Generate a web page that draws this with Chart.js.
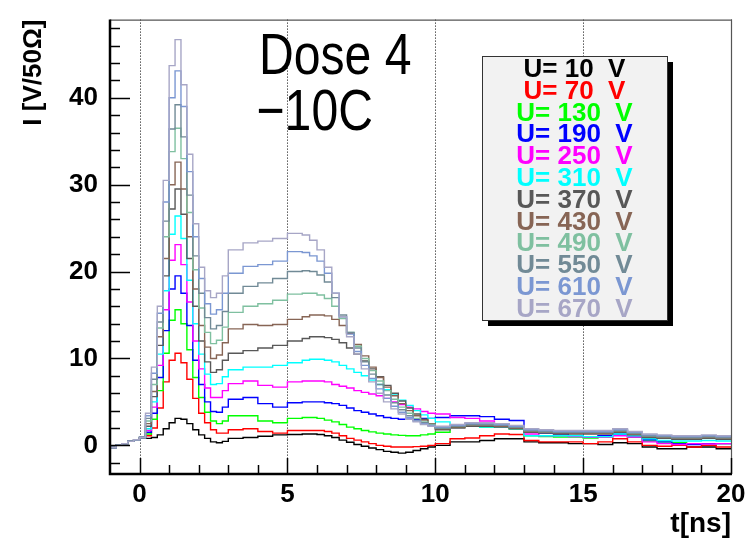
<!DOCTYPE html>
<html>
<head>
<meta charset="utf-8">
<script src="https://cdn.jsdelivr.net/npm/chart.js@4.4.1/dist/chart.umd.min.js"></script>
<style>
  html, body { margin: 0; background: #fff; }
  canvas { display: block; }
</style>
</head>
<body>
<canvas id="pulse" width="747" height="542"></canvas>
<script>
// bin left edges [ns]
const times = [-1.0, -0.8, -0.6, -0.4, -0.2,
  0.0, 0.2, 0.4, 0.6, 0.8, 1.0, 1.2, 1.4, 1.6, 1.8, 2.0, 2.2, 2.4, 2.6, 2.8,
  3.0, 3.5, 4.0, 4.5, 5.0,
  5.5, 5.75, 6.0, 6.25, 6.5, 6.75, 7.0, 7.25, 7.5, 7.75, 8.0, 8.25, 8.5, 8.75, 9.0, 9.25, 9.5, 9.75,
  10.0, 10.5, 11.0, 11.5, 12.0, 12.5, 13.0, 13.5, 14.0, 14.5, 15.0, 15.5, 16.0, 16.5, 17.0, 17.5, 18.0, 18.5, 19.0, 19.5,
  20.0];

// current [V/50 Ohm] per bias voltage
const u10 = [-0.25, 0.0, 0.2, 0.45, 0.65,
  0.85, 0.8, 0.9, 1.2, 1.9, 2.6, 3.1, 3.0, 2.5, 1.8, 1.2, 0.8, 0.4, 0.3, 0.45,
  0.8, 0.9, 1.05, 1.2, 1.25,
  1.3, 1.3, 1.25, 1.1, 0.9, 0.6, 0.35, 0.1, -0.1, -0.3, -0.5, -0.7, -0.8, -0.9, -0.8, -0.6, -0.4, -0.2,
  0.0, 0.4, 0.4, 0.55, 0.75, 0.75, 0.4, 0.3, 0.3, 0.2, 0.2, 0.1, 0.3, 0.2, -0.2, -0.4, -0.4, -0.2, -0.2, -0.4,
  -0.4];
const u70 = [-0.25, 0.0, 0.2, 0.45, 0.65,
  0.9, 1.1, 2.0, 4.3, 7.3, 9.8, 10.6, 9.5, 7.6, 5.4, 3.7, 2.6, 1.8, 1.4, 1.4,
  1.8, 1.9, 1.6, 1.4, 1.7,
  1.7, 1.7, 1.7, 1.6, 1.4, 1.1, 0.8, 0.6, 0.4, 0.2, 0.0, -0.1, -0.2, -0.2, -0.2, -0.15, -0.1, 0.0,
  0.2, 0.75, 0.85, 1.1, 1.3, 1.25, 0.55, 0.4, 0.4, 0.4, 0.2, 0.4, 0.75, 0.4, 0.0, -0.1, 0.0, -0.2, 0.0, -0.2,
  -0.2];
const u130 = [-0.25, 0.0, 0.2, 0.45, 0.65,
  0.9, 1.3, 3.0, 6.3, 10.6, 14.4, 15.6, 14.0, 11.0, 7.8, 5.5, 3.8, 2.8, 2.5, 2.8,
  3.4, 3.4, 2.8, 2.6, 3.1,
  3.2, 3.2, 3.1, 2.9, 2.7, 2.4, 2.1, 1.9, 1.7, 1.55, 1.4, 1.3, 1.2, 1.15, 1.1, 1.1, 1.2, 1.3,
  1.5, 2.1, 2.2, 2.1, 2.2, 1.9, 1.1, 1.0, 0.95, 0.95, 0.85, 0.95, 1.2, 0.95, 0.5, 0.4, 0.3, 0.2, 0.2, 0.2,
  0.2];
const u190 = [-0.25, 0.0, 0.2, 0.45, 0.65,
  0.9, 1.5, 3.7, 7.8, 13.2, 18.0, 19.5, 17.5, 13.8, 9.8, 7.0, 5.0, 3.9, 3.8, 4.4,
  5.3, 5.5, 4.8, 4.4, 4.9,
  5.0, 5.0, 5.0, 4.9, 4.8, 4.6, 4.3, 4.0, 3.8, 3.6, 3.4, 3.2, 3.1, 3.0, 3.0, 3.0, 3.1, 3.1,
  3.2, 3.4, 3.4, 3.3, 3.0, 2.85, 1.7, 1.4, 1.3, 1.1, 1.0, 1.1, 1.3, 1.0, 0.65, 0.4, 0.2, 0.1, 0.2, 0.2,
  0.2];
const u250 = [-0.25, 0.0, 0.2, 0.45, 0.65,
  0.9, 1.7, 4.4, 9.2, 15.6, 21.3, 23.1, 20.8, 16.5, 12.0, 8.8, 6.6, 5.5, 5.5, 6.3,
  7.1, 7.4, 6.9, 6.7, 7.3,
  7.4, 7.4, 7.4, 7.3, 7.0, 6.8, 6.6, 6.3, 6.1, 5.9, 5.7, 5.4, 5.0, 4.7, 4.4, 4.2, 3.9, 3.7,
  3.6, 3.2, 3.1, 2.8, 2.5, 2.1, 1.3, 1.1, 1.1, 1.0, 0.95, 0.95, 1.1, 0.95, 0.4, 0.2, 0.1, 0.2, 0.15, 0.2,
  0.2];
const u310 = [-0.25, 0.0, 0.2, 0.45, 0.65,
  0.9, 1.9, 5.0, 10.5, 17.8, 24.3, 26.4, 23.8, 19.0, 14.0, 10.5, 8.2, 7.0, 7.1, 7.9,
  8.7, 9.0, 9.0, 9.2, 9.5,
  9.8, 9.9, 9.9, 9.8, 9.6, 9.2, 8.8, 8.4, 8.0, 7.5, 7.0, 6.4, 5.8, 5.2, 4.6, 4.0, 3.5, 3.1,
  2.7, 2.3, 2.2, 2.1, 2.1, 1.9, 1.1, 1.1, 1.1, 1.1, 1.0, 1.0, 1.3, 1.1, 0.75, 0.55, 0.5, 0.5, 0.55, 0.5,
  0.5];
const u370 = [-0.25, 0.0, 0.2, 0.45, 0.65,
  0.9, 2.2, 5.6, 11.5, 19.5, 27.2, 29.5, 26.6, 21.5, 16.0, 12.0, 9.6, 8.4, 8.7, 9.8,
  10.6, 10.9, 11.2, 11.5, 12.0,
  12.3, 12.5, 12.5, 12.4, 12.2, 11.8, 11.2, 10.5, 9.7, 8.8, 7.9, 6.9, 6.0, 5.1, 4.3, 3.6, 3.0, 2.5,
  1.8, 2.0, 2.2, 2.2, 2.1, 1.9, 1.5, 1.4, 1.3, 1.3, 1.3, 1.3, 1.5, 1.2, 0.9, 0.8, 0.7, 0.7, 0.8, 0.7,
  0.7];
const u430 = [-0.25, 0.0, 0.2, 0.45, 0.65,
  0.9, 2.5, 6.2, 12.5, 21.5, 30.0, 32.6, 29.5, 24.0, 18.0, 13.8, 11.3, 10.0, 10.4, 11.8,
  13.4, 13.9, 13.8, 13.9, 14.5,
  14.8, 15.0, 15.0, 14.9, 14.5, 13.8, 12.9, 11.6, 10.3, 9.0, 7.8, 6.7, 5.7, 4.8, 4.0, 3.4, 2.9, 2.5,
  1.9, 2.1, 2.3, 2.3, 2.2, 2.0, 1.6, 1.5, 1.4, 1.4, 1.4, 1.4, 1.6, 1.3, 1.0, 0.9, 0.8, 0.8, 0.9, 0.8,
  0.8];
const u490 = [-0.25, 0.0, 0.2, 0.45, 0.65,
  0.9, 2.8, 7.0, 13.5, 24.0, 33.8, 36.5, 33.0, 26.8, 20.2, 15.8, 13.0, 11.7, 12.1, 13.6,
  15.3, 16.0, 16.3, 16.7, 17.4,
  17.5, 17.5, 17.3, 16.9, 16.0, 14.6, 13.0, 11.4, 10.0, 8.6, 7.4, 6.3, 5.3, 4.4, 3.7, 3.1, 2.7, 2.4,
  2.0, 2.2, 2.4, 2.4, 2.3, 2.1, 1.7, 1.6, 1.5, 1.5, 1.5, 1.5, 1.7, 1.4, 1.1, 1.0, 0.9, 0.9, 1.0, 0.9,
  0.9];
const u550 = [-0.25, 0.0, 0.2, 0.45, 0.65,
  0.9, 3.1, 7.6, 14.2, 25.8, 36.4, 39.2, 35.5, 28.8, 21.8, 17.5, 14.7, 13.4, 13.8, 15.4,
  17.5, 18.3, 18.7, 19.2, 20.0,
  20.1, 20.0, 19.6, 18.8, 17.0, 15.0, 13.0, 11.2, 9.6, 8.2, 7.0, 5.8, 4.9, 4.1, 3.4, 2.9, 2.6, 2.3,
  2.0, 2.2, 2.4, 2.4, 2.3, 2.1, 1.7, 1.6, 1.5, 1.5, 1.5, 1.5, 1.7, 1.4, 1.1, 1.0, 0.9, 0.9, 1.0, 0.9,
  0.9];
const u610 = [-0.25, 0.0, 0.2, 0.45, 0.65,
  0.9, 3.4, 8.3, 15.2, 28.0, 40.0, 43.1, 39.0, 31.5, 24.0, 19.2, 16.3, 15.1, 15.6, 17.5,
  19.8, 20.6, 20.8, 21.2, 22.3,
  22.2, 21.8, 21.2, 19.8, 17.5, 14.8, 12.8, 10.8, 9.2, 7.7, 6.5, 5.4, 4.5, 3.8, 3.2, 2.8, 2.5, 2.3,
  2.1, 2.3, 2.5, 2.5, 2.4, 2.2, 1.8, 1.7, 1.6, 1.6, 1.6, 1.6, 1.8, 1.5, 1.2, 1.1, 1.0, 1.0, 1.1, 1.0,
  1.0];
const u670 = [-0.25, 0.0, 0.2, 0.45, 0.65,
  0.9, 3.7, 9.0, 16.0, 30.5, 43.7, 46.7, 41.5, 33.5, 25.5, 20.5, 17.8, 17.0, 17.5, 19.5,
  22.5, 23.3, 23.5, 23.8, 24.4,
  24.2, 23.6, 22.5, 20.5, 17.5, 14.8, 12.5, 10.5, 8.8, 7.3, 6.0, 5.0, 4.2, 3.6, 3.0, 2.7, 2.4, 2.2,
  2.2, 2.4, 2.6, 2.6, 2.5, 2.3, 1.9, 1.8, 1.7, 1.7, 1.7, 1.7, 1.9, 1.6, 1.3, 1.2, 1.1, 1.1, 1.2, 1.1,
  1.1];

const voltages = [10, 70, 130, 190, 250, 310, 370, 430, 490, 550, 610, 670];
const series = [u10, u70, u130, u190, u250, u310, u370, u430, u490, u550, u610, u670];
const colors = ['#000000', '#ff0000', '#00ff00', '#0000ff', '#ff00ff', '#00ffff',
  '#585858', '#876555', '#7fc0a0', '#718a96', '#7b97d2', '#a7a6c6'];

const xTicks = [0, 5, 10, 15, 20];
const yTicks = [0, 10, 20, 30, 40];

const labelFont = { family: 'Liberation Sans, Arial, sans-serif', size: 26, weight: 'bold' };

// ROOT-like frame, ticks, dotted grid, legend box and the note text
const rootDecor = {
  id: 'rootDecor',
  beforeDatasetsDraw(chart) {
    const { ctx, chartArea: a, scales: { x } } = chart;
    ctx.save();
    ctx.strokeStyle = '#000';
    ctx.lineWidth = 1;
    ctx.setLineDash([1, 2]);
    xTicks.forEach(v => {
      const px = Math.round(x.getPixelForValue(v)) + 0.5;
      ctx.beginPath();
      ctx.moveTo(px, a.top);
      ctx.lineTo(px, a.bottom);
      ctx.stroke();
    });
    ctx.restore();
  },
  afterDatasetsDraw(chart) {
    const { ctx, chartArea: a, scales: { x, y } } = chart;
    ctx.save();
    // frame
    ctx.strokeStyle = '#555';
    ctx.lineWidth = 1.2;
    ctx.beginPath();
    ctx.moveTo(a.left, a.top + 0.5);
    ctx.lineTo(a.right + 0.5, a.top + 0.5);
    ctx.lineTo(a.right + 0.5, a.bottom);
    ctx.stroke();
    ctx.strokeStyle = '#000';
    ctx.lineWidth = 2.5;
    ctx.beginPath();
    ctx.moveTo(a.left, a.top);
    ctx.lineTo(a.left, a.bottom);
    ctx.lineTo(a.right + 1, a.bottom);
    ctx.stroke();

    // y ticks (inward), minor every 2
    ctx.lineWidth = 1.5;
    for (let v = -2; v <= 48; v += 2) {
      const py = Math.round(y.getPixelForValue(v)) + 0.5;
      const len = v % 10 === 0 ? 20 : 10;
      ctx.beginPath();
      ctx.moveTo(a.left, py);
      ctx.lineTo(a.left + len, py);
      ctx.stroke();
    }
    // x ticks (upward), minor every 1 ns
    for (let v = 0; v <= 20; v += 1) {
      const px = Math.round(x.getPixelForValue(v)) + 0.5;
      const len = v % 5 === 0 ? 16 : 9;
      ctx.beginPath();
      ctx.moveTo(px, a.bottom);
      ctx.lineTo(px, a.bottom - len);
      ctx.stroke();
    }

    // legend box with shadow
    const bx = 482, by = 56, bw = 185, bh = 264;
    ctx.fillStyle = '#000';
    ctx.fillRect(bx + 6, by + 6, bw, bh);
    ctx.fillStyle = '#f2f2f2';
    ctx.fillRect(bx, by, bw, bh);
    ctx.strokeStyle = '#333';
    ctx.lineWidth = 1;
    ctx.strokeRect(bx + 0.5, by + 0.5, bw, bh);
    ctx.font = 'bold 26px "Liberation Sans", Arial, sans-serif';
    ctx.textAlign = 'center';
    ctx.textBaseline = 'alphabetic';
    chart.data.datasets.forEach((ds, i) => {
      ctx.fillStyle = ds.borderColor;
      ctx.fillText(ds.label, bx + bw / 2, 77 + i * 21.8);
    });

    // note (narrowed sans text)
    ctx.fillStyle = '#000';
    ctx.textAlign = 'left';
    ctx.font = '58px "Liberation Sans", Arial, sans-serif';
    ctx.translate(259, 0);
    ctx.scale(0.83, 1);
    ctx.fillText('Dose 4', 0, 74);
    ctx.fillText('\u221210C', -3, 130);
    ctx.restore();
  }
};

const datasets = series.map((vals, i) => ({
  label: 'U= ' + voltages[i] + '  V',
  data: vals.map((v, j) => ({ x: times[j], y: v })),
  borderColor: colors[i],
  borderWidth: 1.4,
  pointRadius: 0,
  stepped: true,
  fill: false,
  order: series.length - i
}));

new Chart(document.getElementById('pulse').getContext('2d'), {
  type: 'line',
  data: { datasets },
  options: {
    responsive: false,
    animation: false,
    events: [],
    layout: { padding: { left: 0, top: 14, right: 16, bottom: 0 } },
    plugins: { legend: { display: false }, tooltip: { enabled: false } },
    scales: {
      x: {
        type: 'linear',
        min: -1,
        max: 20,
        grid: { display: false },
        border: { display: false },
        afterFit: s => { s.height = 68; },
        afterBuildTicks: s => { s.ticks = xTicks.map(v => ({ value: v })); },
        ticks: { autoSkip: false, maxRotation: 0, padding: -3, color: '#000', font: labelFont },
        title: { display: true, text: 't[ns]', align: 'end', color: '#000',
          font: { family: 'Liberation Sans, Arial, sans-serif', size: 28, weight: 'bold' }, padding: { top: 0, bottom: 1 } }
      },
      y: {
        type: 'linear',
        min: -3.3,
        max: 49,
        grid: { display: false },
        border: { display: false },
        afterFit: s => { s.width = 110; },
        afterBuildTicks: s => { s.ticks = yTicks.map(v => ({ value: v })); },
        ticks: { autoSkip: false, padding: 4, color: '#000', font: labelFont },
        title: { display: true, text: 'I [V/50\u03A9]', align: 'end', color: '#000', font: labelFont, padding: { top: 18, bottom: 0 } }
      }
    }
  },
  plugins: [rootDecor]
});
</script>
</body>
</html>
